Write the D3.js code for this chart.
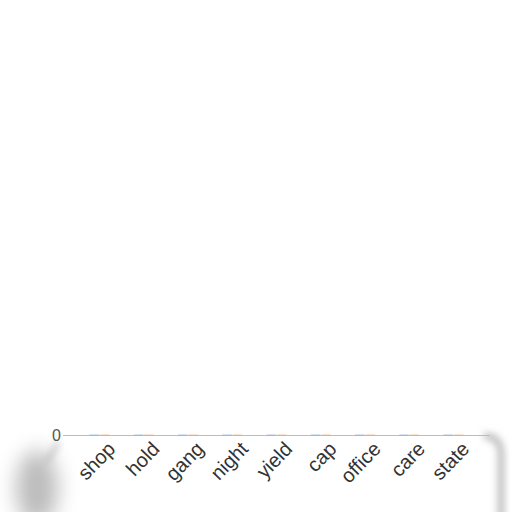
<!DOCTYPE html>
<html lang="en">
<head>
    <meta charset="UTF-8">
    <title>Grouped bars</title>
    <script src="https://d3js.org/d3.v7.min.js"></script>
    <style>
        body { margin: 0; background: #fff; }
        .cat-label { font-family: "Liberation Sans", Arial, sans-serif; font-size: 20px; fill: #333; }
        .y-label { font-family: "Liberation Sans", Arial, sans-serif; font-size: 16px; fill: #555; }
    </style>
</head>
<body>
<svg width="512" height="512"></svg>
<script>
    // chart data
    const categories = ["shop", "hold", "gang", "night", "yield", "cap", "office", "care", "state"];
    const seriesNames = ["first", "second"];
    const firstValues = [0, 0, 0, 0, 0, 0, 0, 0, 0];
    const secondValues = [0, 0, 0, 0, 0, 0, 0, 0, 0];
    const yTicks = [0];
    const seriesColors = ["#7fa9d6", "#f0a868"];

    const svg = d3.select("svg");
    const marginLeft = 63, plotRight = 490, plotTop = 20, baseY = 435;

    // soft shadows around the lower edge
    const defs = svg.append("defs");
    defs.append("filter").attr("id", "soft")
        .attr("x", "-50%").attr("y", "-50%").attr("width", "200%").attr("height", "200%")
        .append("feGaussianBlur").attr("stdDeviation", 10);
    defs.append("filter").attr("id", "soft2")
        .attr("x", "-50%").attr("y", "-50%").attr("width", "200%").attr("height", "200%")
        .append("feGaussianBlur").attr("stdDeviation", 3.5);

    svg.append("ellipse")
        .attr("cx", 37).attr("cy", 488).attr("rx", 21).attr("ry", 38)
        .attr("fill", "#999").attr("opacity", 0.65)
        .attr("filter", "url(#soft)");
    svg.append("path")
        .attr("d", "M46,462 Q56,448 58,442")
        .attr("stroke", "#aaa").attr("stroke-width", 6).attr("fill", "none")
        .attr("opacity", 0.5).attr("filter", "url(#soft2)");
    svg.append("path")
        .attr("d", "M484,436 Q500,436 501,453 L501,520")
        .attr("stroke", "#c0c0c0").attr("stroke-width", 7).attr("fill", "none")
        .attr("filter", "url(#soft2)");

    const data = categories.map((c, i) => ({
        cat: c,
        vals: [firstValues[i], secondValues[i]]
    }));

    const x0 = d3.scaleBand()
        .domain(categories)
        .range([marginLeft, plotRight])
        .paddingInner(0.5)
        .paddingOuter(0.575);

    const x1 = d3.scaleBand()
        .domain(seriesNames)
        .range([0, x0.bandwidth()])
        .padding(0.1);

    const y = d3.scaleLinear()
        .domain([0, d3.max(firstValues.concat(secondValues)) || 1])
        .range([baseY, plotTop]);

    // gridline + zero label
    const yAxis = svg.append("g")
        .attr("transform", `translate(${marginLeft},0)`)
        .call(d3.axisLeft(y).tickValues(yTicks).tickFormat(d3.format("d"))
            .tickSize(-(plotRight - marginLeft)).tickPadding(2));
    yAxis.select(".domain").remove();
    yAxis.selectAll("line").attr("stroke", "#bdbdbd");
    yAxis.selectAll("text").attr("class", "y-label").attr("fill", null);
    yAxis.attr("font-size", null).attr("font-family", null);

    // bars
    svg.append("g").selectAll("g")
        .data(data)
        .join("g")
        .attr("transform", d => `translate(${x0(d.cat)},0)`)
        .selectAll("rect")
        .data(d => d.vals.map((v, j) => ({ key: seriesNames[j], v: v, j: j })))
        .join("rect")
        .attr("x", d => x1(d.key))
        .attr("width", x1.bandwidth())
        .attr("y", d => y(d.v) - 0.5)
        .attr("height", d => Math.max(1, y(0) - y(d.v)))
        .attr("fill", d => seriesColors[d.j])
        .attr("opacity", 0.6);

    // category labels
    svg.append("g").selectAll("text")
        .data(categories)
        .join("text")
        .attr("class", "cat-label")
        .attr("text-anchor", "end")
        .attr("transform", d => `translate(${x0(d) + x0.bandwidth() / 2 + 17},450) rotate(-46)`)
        .text(d => d);
</script>
</body>
</html>
